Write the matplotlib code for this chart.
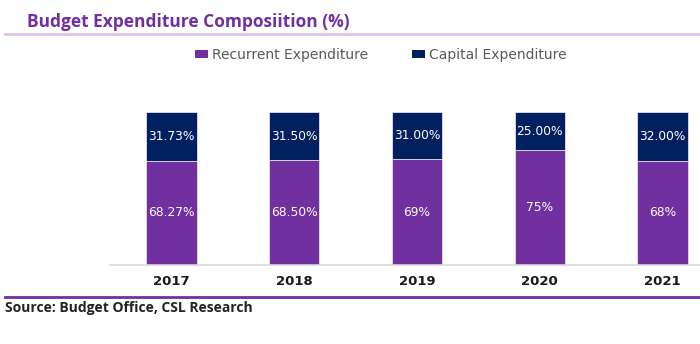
import matplotlib
matplotlib.use("Agg")
import matplotlib.pyplot as plt
from matplotlib.patches import Patch
from matplotlib.lines import Line2D

years = ["2017", "2018", "2019", "2020", "2021"]
recurrent = [68.27, 68.50, 69, 75, 68]
capital = [31.73, 31.50, 31.00, 25.00, 32.00]
recurrent_labels = ["68.27%", "68.50%", "69%", "75%", "68%"]
capital_labels = ["31.73%", "31.50%", "31.00%", "25.00%", "32.00%"]

PURPLE = "#7030A0"
NAVY = "#002060"

W, H = 700, 344
fig = plt.figure(figsize=(7, 3.44), dpi=100)

def fx(px):
    return px / W

def fy(py):
    return 1 - py / H

# axes: left 110px, right 700px, bottom 265px, top 112px
ax = fig.add_axes([fx(110), fy(265), fx(700) - fx(110), fy(112) - fy(265)])
x = list(range(len(years)))
ax.bar(x, recurrent, width=0.41, color=PURPLE, edgecolor="#e6ddee", linewidth=0.6, zorder=2)
ax.bar(x, capital, bottom=recurrent, width=0.41, color=NAVY, edgecolor="#e6ddee", linewidth=0.6, zorder=2)

for i in x:
    ax.text(i, recurrent[i] / 2, recurrent_labels[i], ha="center", va="center",
            color="white", fontsize=8.8, family="DejaVu Sans", zorder=3)
    ax.text(i, recurrent[i] + capital[i] / 2, capital_labels[i], ha="center", va="center",
            color="white", fontsize=8.8, family="DejaVu Sans", zorder=3)

ax.set_xlim(-0.5, 4.5 - 24 / 123)
ax.set_ylim(0, 100)
for s in ["top", "right", "left"]:
    ax.spines[s].set_visible(False)
ax.spines["bottom"].set_color("#d9d9d9")
ax.spines["bottom"].set_linewidth(1.2)
ax.set_yticks([])
ax.set_xticks(x)
ax.set_xticklabels(years, fontsize=9.5, fontweight="bold", color="#1a1a1a", family="DejaVu Sans")
ax.tick_params(axis="x", length=0, pad=7)

# title
fig.text(fx(27), fy(22), "Budget Expenditure Composiition (%)", color=PURPLE,
         fontsize=12.5, fontweight="bold", family="Open Sans", ha="left", va="center")
fig.add_artist(Line2D([fx(5), fx(700)], [fy(34), fy(34)], color="#d8c6e6", linewidth=2))

# legend
handles = [Patch(facecolor=PURPLE, label="Recurrent Expenditure"),
           Patch(facecolor=NAVY, label="Capital Expenditure")]
leg = fig.legend(handles=handles, loc="center left", bbox_to_anchor=(fx(195), fy(55)), ncol=2,
                 frameon=False, borderpad=0, borderaxespad=0,
                 prop={"family": "DejaVu Sans", "size": 10},
                 handlelength=0.95, handleheight=0.45,
                 columnspacing=3.1, handletextpad=0.3)
for t in leg.get_texts():
    t.set_color("#595959")

# bottom line and source
fig.add_artist(Line2D([fx(5), fx(700)], [fy(297), fy(297)], color=PURPLE, linewidth=2))
fig.text(fx(5), fy(308), "Source: Budget Office, CSL Research", color="#222222",
         fontsize=10, fontweight="bold", family="Open Sans", ha="left", va="center")

fig.savefig("out.png", dpi=100)
